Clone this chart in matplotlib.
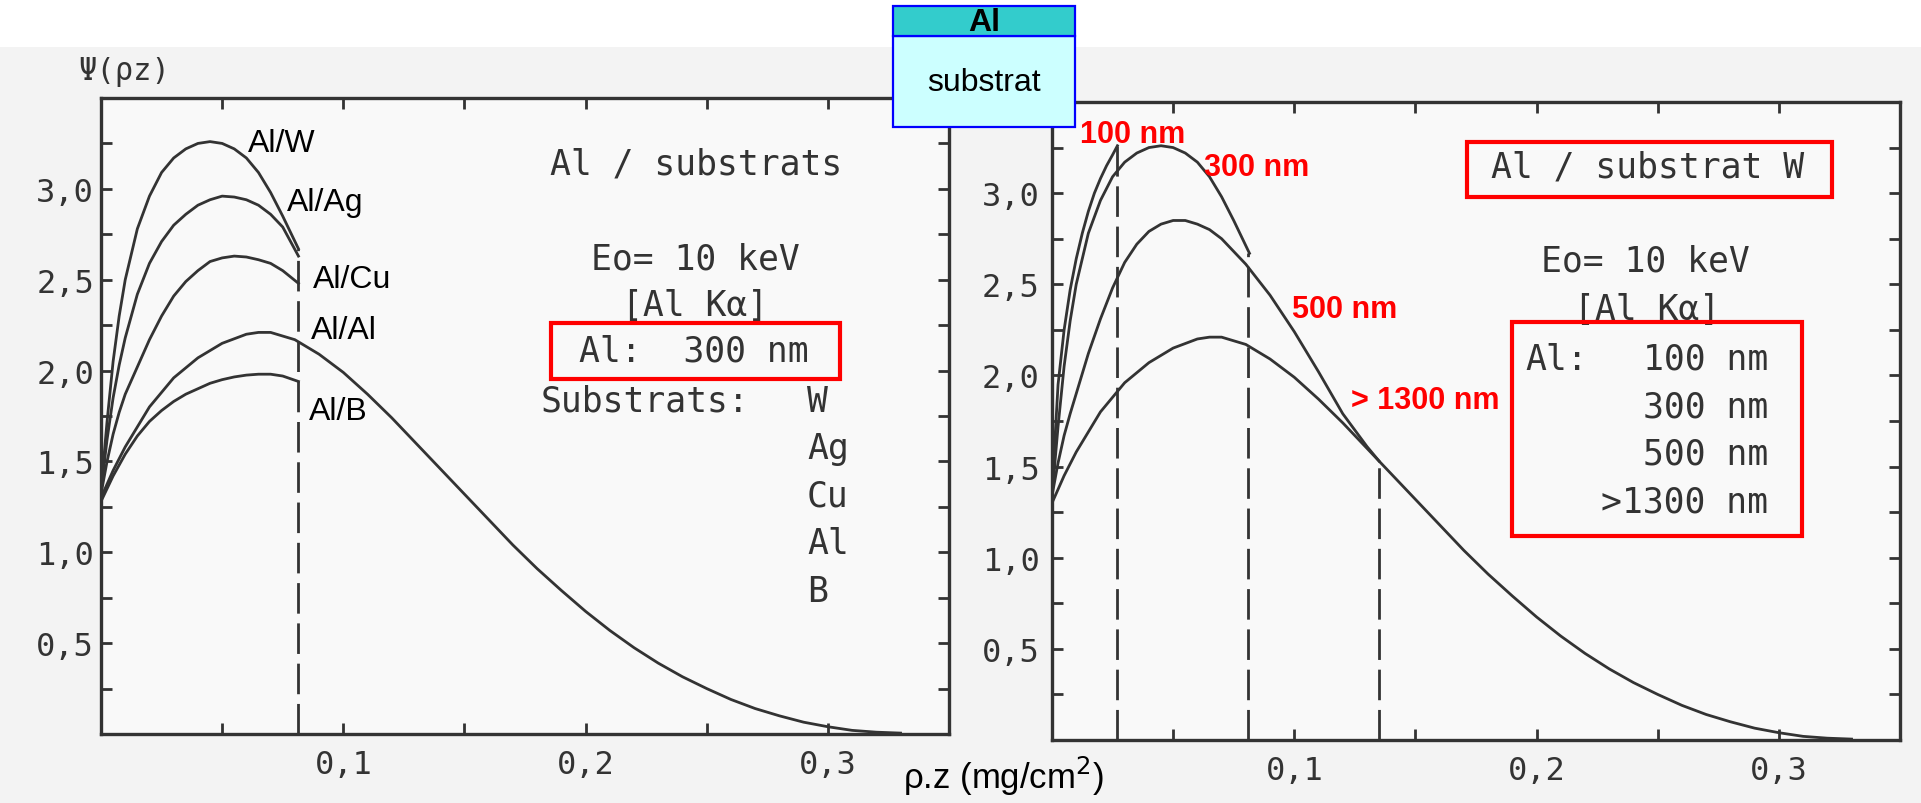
import numpy as np
import matplotlib
matplotlib.use('Agg')
import matplotlib.pyplot as plt
from matplotlib.patches import Rectangle

# ---------------- data ----------------
# depth rho.z (mg/cm2) for the thin-film curves
x_film = [0, 0.0025, 0.005, 0.0075, 0.01, 0.015, 0.02, 0.025, 0.03, 0.035,
          0.04, 0.045, 0.05, 0.055, 0.06, 0.065, 0.07, 0.075, 0.0815]
psi_W = [1.34, 1.72, 2.05, 2.30, 2.50, 2.78, 2.96, 3.09, 3.17, 3.22,
         3.25, 3.26, 3.25, 3.22, 3.17, 3.09, 2.98, 2.85, 2.67]
psi_Ag = [1.34, 1.62, 1.85, 2.03, 2.18, 2.42, 2.59, 2.71, 2.80, 2.86,
          2.91, 2.94, 2.96, 2.955, 2.94, 2.91, 2.86, 2.79, 2.63]
psi_Cu = [1.32, 1.50, 1.65, 1.77, 1.87, 2.02, 2.17, 2.30, 2.41, 2.49,
          2.55, 2.60, 2.62, 2.63, 2.625, 2.61, 2.59, 2.55, 2.48]
psi_B = [1.28, 1.35, 1.42, 1.48, 1.54, 1.64, 1.72, 1.78, 1.83, 1.87,
         1.90, 1.93, 1.95, 1.965, 1.975, 1.98, 1.98, 1.97, 1.94]

# bulk Al (Al/Al and > 1300 nm)
x_bulk = [0, 0.005, 0.01, 0.015, 0.02, 0.03, 0.04, 0.05, 0.06, 0.065, 0.07,
          0.08, 0.09, 0.10, 0.11, 0.12, 0.13, 0.14, 0.15, 0.16, 0.17, 0.18,
          0.19, 0.20, 0.21, 0.22, 0.23, 0.24, 0.25, 0.26, 0.27, 0.28, 0.29,
          0.30, 0.31, 0.32, 0.33]
psi_Al = [1.30, 1.45, 1.58, 1.69, 1.80, 1.96, 2.07, 2.15, 2.20, 2.21, 2.21,
          2.17, 2.09, 1.99, 1.87, 1.74, 1.60, 1.46, 1.32, 1.18, 1.04, 0.91,
          0.79, 0.675, 0.57, 0.475, 0.39, 0.315, 0.25, 0.19, 0.14, 0.10, 0.065,
          0.04, 0.02, 0.01, 0.005]

# Al on W, 100 nm and 500 nm films
x_100 = [0, 0.0025, 0.005, 0.0075, 0.01, 0.0125, 0.015, 0.0175, 0.02, 0.0225, 0.025, 0.027]
psi_100 = [1.36, 1.95, 2.25, 2.47, 2.64, 2.78, 2.90, 3.00, 3.08, 3.15, 3.21, 3.26]
x_500 = [0, 0.0025, 0.005, 0.0075, 0.01, 0.015, 0.02, 0.025, 0.03, 0.035, 0.04,
         0.045, 0.05, 0.055, 0.06, 0.065, 0.07, 0.08, 0.09, 0.10, 0.11, 0.12,
         0.13, 0.135]
psi_500 = [1.34, 1.52, 1.67, 1.79, 1.90, 2.12, 2.31, 2.48, 2.62, 2.72, 2.79,
           2.83, 2.85, 2.85, 2.83, 2.80, 2.75, 2.61, 2.44, 2.24, 2.02, 1.79,
           1.61, 1.53]

# film thickness marks (mg/cm2) and the heights where the dashed lines start
film_left = [0.0815]
film_left_top = [2.67]
film_right = [0.027, 0.081, 0.135]
film_right_top = [3.26, 2.67, 1.53]

# ticks
x_tick_vals = [0.05, 0.10, 0.15, 0.20, 0.25, 0.30]
x_tick_labels = ['', '0,1', '', '0,2', '', '0,3']
y_tick_vals = [0.25, 0.5, 0.75, 1.0, 1.25, 1.5, 1.75, 2.0, 2.25, 2.5, 2.75, 3.0, 3.25]
y_tick_labels = ['', '0,5', '', '1,0', '', '1,5', '', '2,0', '', '2,5', '', '3,0', '']

left_curve_labels = ['Al/W', 'Al/Ag', 'Al/Cu', 'Al/Al', 'Al/B']
substrates = ['W', 'Ag', 'Cu', 'Al', 'B']
right_curve_labels = ['100 nm', '300 nm', '500 nm', '> 1300 nm']
right_box_values = ['100 nm', '300 nm', '500 nm', '>1300 nm']

# ---------------- figure ----------------
W, H = 1921, 804
fig = plt.figure(figsize=(W / 100, H / 100), dpi=100)
fig.patch.set_facecolor('white')

def fx(px):
    return px / W

def fy(py):
    return 1 - py / H

INK = '#333333'
MONO = 'DejaVu Sans Mono'
SANS = 'Liberation Sans'

# scanned page background
fig.add_artist(Rectangle((0, 0), 1, fy(48), transform=fig.transFigure,
                         facecolor='#f3f3f3', edgecolor='none', zorder=-5))

axL = fig.add_axes([fx(101), fy(735), fx(949 - 101), (735 - 99) / H])
axR = fig.add_axes([fx(1052), fy(741), fx(1900 - 1052), (741 - 103) / H])


def style(ax, ypad):
    ax.set_facecolor('#f9f9f9')
    ax.set_xlim(0, 0.35)
    ax.set_ylim(0, 3.5)
    ax.set_xticks(x_tick_vals)
    ax.set_xticklabels(x_tick_labels)
    ax.set_yticks(y_tick_vals)
    ax.set_yticklabels(y_tick_labels)
    ax.tick_params(axis='both', direction='in', length=8, width=2, color=INK,
                   top=True, right=True, labelsize=23, labelcolor=INK)
    ax.tick_params(axis='x', pad=11)
    ax.tick_params(axis='y', pad=ypad)
    for s in ax.spines.values():
        s.set_linewidth(2.4)
        s.set_color(INK)
    for lab in ax.get_xticklabels() + ax.get_yticklabels():
        lab.set_family(MONO)


style(axL, 5)
style(axR, 9)

LW = 2.0
CC = '#333333'
DASH = (0, (11, 3.5))

# left panel curves
for p in [psi_W, psi_Ag, psi_Cu, psi_B]:
    axL.plot(x_film, p, color=CC, lw=LW)
axL.plot(x_bulk, psi_Al, color=CC, lw=LW)
for xf, top in zip(film_left, film_left_top):
    axL.plot([xf, xf], [0, top], color=CC, lw=2.0, ls=DASH)

# right panel curves
axR.plot(x_100, psi_100, color=CC, lw=LW)
axR.plot(x_film, psi_W, color=CC, lw=LW)
axR.plot(x_500, psi_500, color=CC, lw=LW)
axR.plot(x_bulk, psi_Al, color=CC, lw=LW)
for xf, top in zip(film_right, film_right_top):
    axR.plot([xf, xf], [0, top], color=CC, lw=2.0, ls=DASH)

# ---------------- texts ----------------
fig.text(fx(78), fy(72), 'Ψ(ρz)', family=MONO, fontsize=22, color=INK,
         ha='left', va='center')
fig.text(fx(1003), fy(776), 'ρ.z (mg/cm$^2$)', family=SANS, fontsize=25,
         color='black', ha='center', va='center')

# left curve labels
for s, (px, py) in zip(left_curve_labels,
                       [(248, 144), (287, 203), (313, 280), (311, 331), (309, 412)]):
    fig.text(fx(px), fy(py), s, family=SANS, fontsize=23, color='black',
             ha='left', va='center')

# left mono annotations
fig.text(fx(696), fy(164), 'Al / substrats', family=MONO, fontsize=25,
         color=INK, ha='center', va='center')
fig.text(fx(695), fy(260), 'Eo= 10 keV', family=MONO, fontsize=25,
         color=INK, ha='center', va='center')
fig.text(fx(695), fy(306), '[Al Kα]', family=MONO, fontsize=25,
         color=INK, ha='center', va='center')
fig.text(fx(694), fy(352), 'Al:  300 nm', family=MONO, fontsize=25,
         color=INK, ha='center', va='center')
fig.text(fx(541), fy(402), 'Substrats:', family=MONO, fontsize=25,
         color=INK, ha='left', va='center')
for i, s in enumerate(substrates):
    fig.text(fx(807), fy(402 + 47.5 * i), s, family=MONO, fontsize=25,
             color=INK, ha='left', va='center')

# right red curve labels
for s, (px, py) in zip(right_curve_labels,
                       [(1133, 135), (1257, 168), (1345, 310), (1425, 401)]):
    fig.text(fx(px), fy(py), s, family=SANS, fontsize=22, fontweight='bold',
             color='#ff0000', ha='center', va='center')

# right mono annotations
fig.text(fx(1648), fy(168), 'Al / substrat W', family=MONO, fontsize=25,
         color=INK, ha='center', va='center')
fig.text(fx(1645), fy(262), 'Eo= 10 keV', family=MONO, fontsize=25,
         color=INK, ha='center', va='center')
fig.text(fx(1647), fy(310), '[Al Kα]', family=MONO, fontsize=25,
         color=INK, ha='center', va='center')
fig.text(fx(1525), fy(360), 'Al:', family=MONO, fontsize=25,
         color=INK, ha='left', va='center')
for i, s in enumerate(right_box_values):
    fig.text(fx(1768), fy(360 + 47.5 * i), s, family=MONO, fontsize=25,
             color=INK, ha='right', va='center')

# red boxes (figure pixels: x0, y0(top), x1, y1(bottom))
for (x0, y0, x1, y1) in [(551, 324, 840, 380), (1467, 143, 1832, 198),
                         (1512, 323, 1802, 537)]:
    fig.add_artist(Rectangle((fx(x0), fy(y1)), fx(x1 - x0), (y1 - y0) / H,
                             transform=fig.transFigure, facecolor='none',
                             edgecolor='#ff0000', lw=3, zorder=10))

# inset schematic: Al layer on substrate
bx0, bx1, by0, bmid, by1 = 893, 1075, 7, 37, 128
fig.add_artist(Rectangle((fx(bx0), fy(by1)), fx(bx1 - bx0), (by1 - bmid) / H,
                         transform=fig.transFigure, facecolor='#ccffff',
                         edgecolor='#0000ff', lw=1.6, zorder=12))
fig.add_artist(Rectangle((fx(bx0), fy(bmid)), fx(bx1 - bx0), (bmid - by0) / H,
                         transform=fig.transFigure, facecolor='#33cccc',
                         edgecolor='#0000ff', lw=1.6, zorder=13))
fig.text(fx((bx0 + bx1) / 2), fy(23), 'Al', family=SANS, fontsize=23,
         fontweight='bold', color='black', ha='center', va='center', zorder=14)
fig.text(fx((bx0 + bx1) / 2), fy(83), 'substrat', family=SANS, fontsize=23,
         color='black', ha='center', va='center', zorder=14)

fig.savefig('out.png', dpi=100, facecolor=fig.get_facecolor())
